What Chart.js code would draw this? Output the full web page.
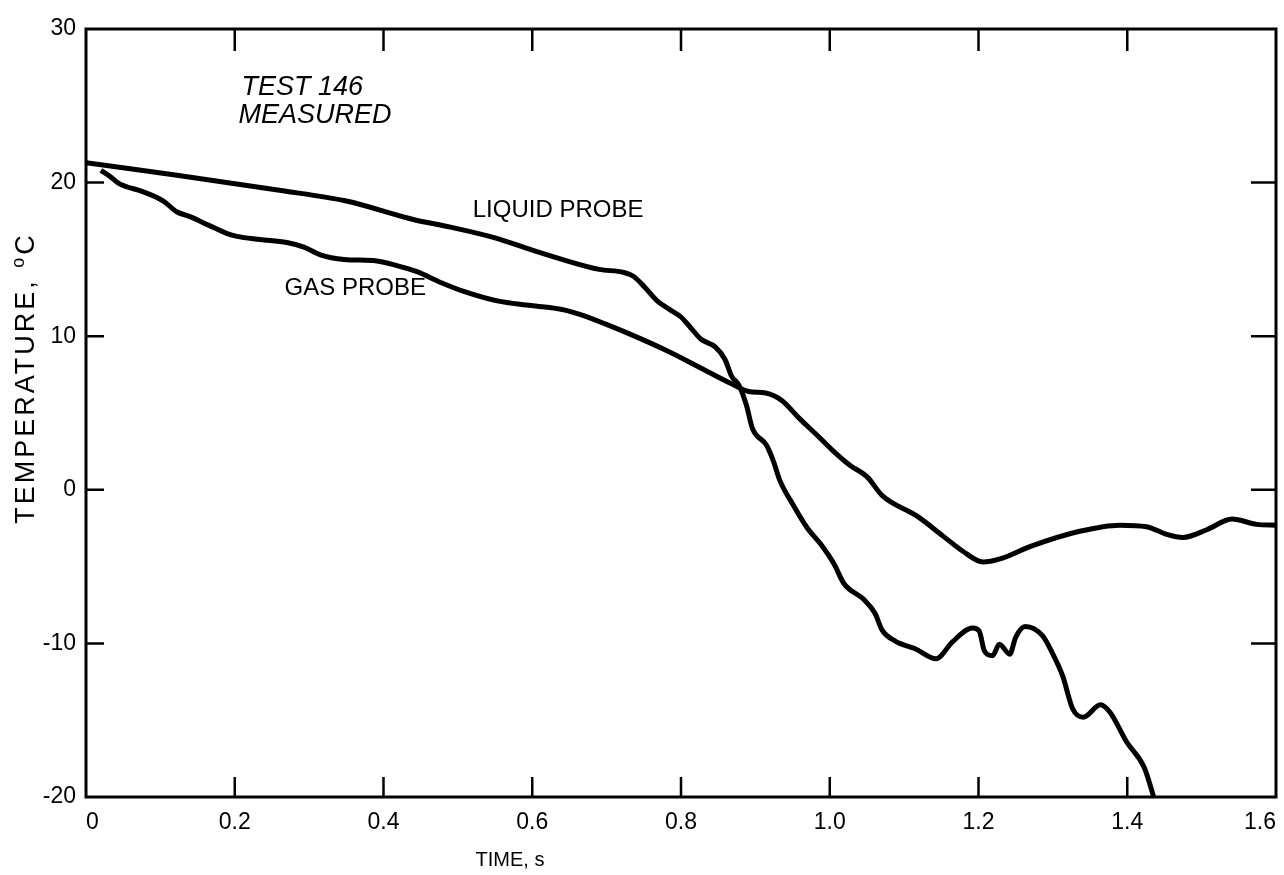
<!DOCTYPE html>
<html>
<head>
<meta charset="utf-8">
<script src="https://cdn.jsdelivr.net/npm/chart.js@4.4.1/dist/chart.umd.min.js"></script>
<style>
  html, body { margin: 0; padding: 0; background: #fff; }
  #wrap { width: 1284px; height: 875px; }
</style>
</head>
<body>
<div id="wrap"><canvas id="myChart" width="1284" height="875"></canvas></div>
<script>
// time in s, temperature in deg C
const LIQUID_TIME = [
  0, 0.12, 0.26, 0.35, 0.44, 0.49, 0.55, 0.6, 0.64, 0.69, 0.723, 0.736, 0.751,
  0.768, 0.786, 0.8, 0.813, 0.827, 0.846, 0.859, 0.868, 0.878, 0.888, 0.896,
  0.915, 0.924, 0.933, 0.951, 0.97, 0.988, 1.006, 1.019, 1.046, 1.061, 1.07,
  1.088, 1.115, 1.143, 1.165, 1.192, 1.201, 1.208, 1.219, 1.228, 1.242, 1.25,
  1.263, 1.286, 1.299, 1.313, 1.327, 1.341, 1.364, 1.377, 1.399, 1.423, 1.438,
];
const LIQUID_TEMP = [
  21.3, 20.5, 19.5, 18.8, 17.6, 17.1, 16.4, 15.6, 15.0, 14.35, 14.15, 13.9, 13.2,
  12.3, 11.7, 11.25, 10.55, 9.8, 9.3, 8.5, 7.4, 6.8, 5.5, 4.0,
  2.9, 1.9, 0.6, -1.0, -2.5, -3.55, -4.85, -6.1, -7.15, -8.05, -9.1,
  -9.85, -10.35, -11.0, -9.9, -9.0, -9.2, -10.5, -10.8, -10.05, -10.7, -9.6,
  -8.9, -9.5, -10.6, -12.1, -14.3, -14.8, -14.0, -14.5, -16.4, -18.1, -20.4,
];
const GAS_TIME = [
  0.02, 0.031, 0.044, 0.077, 0.104, 0.122, 0.139, 0.166, 0.189, 0.203, 0.234,
  0.27, 0.293, 0.315, 0.347, 0.391, 0.418, 0.445, 0.477, 0.509, 0.553, 0.598,
  0.644, 0.665, 0.698, 0.733, 0.779, 0.824, 0.868, 0.891, 0.914, 0.936, 0.958,
  0.982, 1.003, 1.027, 1.05, 1.071, 1.117, 1.152, 1.179, 1.206, 1.229, 1.269,
  1.336, 1.39, 1.426, 1.453, 1.475, 1.507, 1.541, 1.574, 1.6,
];
const GAS_TEMP = [
  20.8, 20.45, 19.95, 19.4, 18.8, 18.1, 17.8, 17.2, 16.7, 16.5, 16.3,
  16.1, 15.8, 15.3, 15.0, 14.9, 14.6, 14.2, 13.5, 12.9, 12.3, 12.0,
  11.7, 11.4, 10.8, 10.1, 9.1, 8.0, 6.9, 6.4, 6.3, 5.8, 4.7,
  3.6, 2.6, 1.6, 0.86, -0.4, -1.7, -3.0, -4.0, -4.7, -4.5, -3.7,
  -2.7, -2.3, -2.4, -2.9, -3.1, -2.6, -1.9, -2.25, -2.3,
];

const X_TICKS = [0, 0.2, 0.4, 0.6, 0.8, 1.0, 1.2, 1.4, 1.6];
const X_TICK_LABELS = ["0", "0.2", "0.4", "0.6", "0.8", "1.0", "1.2", "1.4", "1.6"];
const Y_TICKS = [-20, -10, 0, 10, 20, 30];
const Y_TICK_LABELS = ["-20", "-10", "0", "10", "20", "30"];

// inner tick marks (the frame corners carry no mark)
const X_INNER = [0.2, 0.4, 0.6, 0.8, 1.0, 1.2, 1.4];
const Y_INNER = [-10, 0, 10, 20];

const FONT = "'Liberation Sans', Arial, sans-serif";
const INK = "#000";

function toPoints(xs, ys) {
  return xs.map((x, i) => ({ x: x, y: ys[i] }));
}

const framePlugin = {
  id: "frame",
  afterDatasetsDraw(chart) {
    const ctx = chart.ctx;
    const area = chart.chartArea;
    const xs = chart.scales.x;
    const ys = chart.scales.y;
    ctx.save();
    ctx.strokeStyle = INK;
    ctx.lineWidth = 3;
    ctx.strokeRect(area.left, area.top, area.right - area.left, area.bottom - area.top);

    ctx.lineWidth = 2.5;
    ctx.beginPath();
    X_INNER.forEach((v) => {
      const px = xs.getPixelForValue(v);
      ctx.moveTo(px, area.top);
      ctx.lineTo(px, area.top + 22);
      ctx.moveTo(px, area.bottom);
      ctx.lineTo(px, area.bottom - 20);
    });
    Y_INNER.forEach((v) => {
      const py = ys.getPixelForValue(v);
      ctx.moveTo(area.left, py);
      ctx.lineTo(area.left + 18, py);
      ctx.moveTo(area.right, py);
      ctx.lineTo(area.right - 25, py);
    });
    ctx.stroke();

    // text labels inside the plot, placed in data units
    ctx.fillStyle = INK;
    ctx.textBaseline = "alphabetic";
    ctx.textAlign = "left";
    ctx.font = "italic 27px " + FONT;
    ctx.fillText("TEST 146", xs.getPixelForValue(0.209), ys.getPixelForValue(25.7));
    ctx.fillText("MEASURED", xs.getPixelForValue(0.205), ys.getPixelForValue(23.9));
    ctx.font = "24px " + FONT;
    ctx.fillText("LIQUID PROBE", xs.getPixelForValue(0.52), ys.getPixelForValue(17.75));
    ctx.fillText("GAS PROBE", xs.getPixelForValue(0.267), ys.getPixelForValue(12.7));

    // axis titles
    ctx.font = "20px " + FONT;
    ctx.textAlign = "center";
    ctx.fillText("TIME, s", 510, 866);

    ctx.translate(34, 378);
    ctx.rotate(-Math.PI / 2);
    ctx.letterSpacing = "3px";
    ctx.font = "27px " + FONT;
    const main = "TEMPERATURE, ";
    const wMain = ctx.measureText(main).width;
    ctx.font = "18px " + FONT;
    const wO = ctx.measureText("o").width;
    ctx.font = "27px " + FONT;
    const wC = ctx.measureText("C").width;
    let x0 = -(wMain + wO + wC) / 2;
    ctx.textAlign = "left";
    ctx.fillText(main, x0, 0);
    ctx.font = "18px " + FONT;
    ctx.fillText("o", x0 + wMain, -10);
    ctx.font = "27px " + FONT;
    ctx.fillText("C", x0 + wMain + wO, 0);
    ctx.restore();
  },
};

const ctx = document.getElementById("myChart").getContext("2d");

new Chart(ctx, {
  type: "line",
  data: {
    datasets: [
      {
        label: "LIQUID PROBE",
        data: toPoints(LIQUID_TIME, LIQUID_TEMP),
        borderColor: INK,
        borderWidth: 5,
        pointRadius: 0,
        cubicInterpolationMode: "monotone",
        fill: false,
      },
      {
        label: "GAS PROBE",
        data: toPoints(GAS_TIME, GAS_TEMP),
        borderColor: INK,
        borderWidth: 5,
        pointRadius: 0,
        cubicInterpolationMode: "monotone",
        fill: false,
      },
    ],
  },
  options: {
    responsive: false,
    animation: false,
    layout: {
      autoPadding: false,
      padding: { left: 0, right: 8, top: 29, bottom: 0 },
    },
    plugins: {
      legend: { display: false },
      tooltip: { enabled: false },
    },
    scales: {
      x: {
        type: "linear",
        min: 0,
        max: 1.6,
        afterBuildTicks: function (scale) {
          scale.ticks = X_TICKS.map((v) => ({ value: v }));
        },
        afterFit: function (scale) {
          scale.height = 78;
          scale.paddingLeft = 0;
          scale.paddingRight = 0;
        },
        grid: { display: false, drawTicks: false },
        border: { display: false },
        ticks: {
          color: INK,
          padding: 12,
          align: "inner",
          maxRotation: 0,
          autoSkip: false,
          font: { family: FONT, size: 23 },
          callback: function (value, index) {
            return X_TICK_LABELS[index];
          },
        },
      },
      y: {
        type: "linear",
        min: -20,
        max: 30,
        afterBuildTicks: function (scale) {
          scale.ticks = Y_TICKS.map((v) => ({ value: v }));
        },
        afterFit: function (scale) {
          scale.width = 86;
          scale.paddingTop = 0;
          scale.paddingBottom = 0;
        },
        grid: { display: false, drawTicks: false },
        border: { display: false },
        ticks: {
          color: INK,
          padding: 10,
          autoSkip: false,
          font: { family: FONT, size: 23 },
          callback: function (value, index) {
            return Y_TICK_LABELS[index];
          },
        },
      },
    },
  },
  plugins: [framePlugin],
});
</script>
</body>
</html>
